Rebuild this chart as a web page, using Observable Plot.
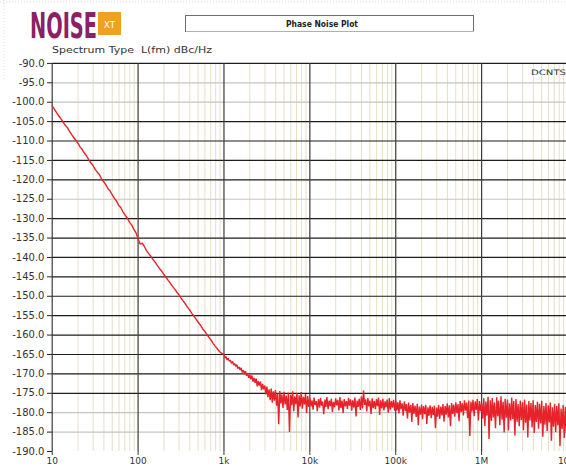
<!DOCTYPE html>
<html>
<head>
<meta charset="utf-8">
<script src="https://cdn.jsdelivr.net/npm/d3@7"></script>
<script src="https://cdn.jsdelivr.net/npm/@observablehq/plot@0.6"></script>
<style>
  html, body { margin: 0; padding: 0; background: #fff; }
  #wrap { position: relative; width: 566px; height: 469px; overflow: hidden; background: #fff; }
  #wrap svg.plot { position: absolute; left: 0; top: 0; }
  #hdr { position: absolute; left: 0; top: 0; }
</style>
</head>
<body>
<div id="wrap">
  <svg id="hdr" width="566" height="80" xmlns="http://www.w3.org/2000/svg">
    <line x1="0" y1="2" x2="566" y2="2" stroke="#d8d8d8" stroke-dasharray="1,2"/>
    <line x1="4" y1="0" x2="4" y2="469" stroke="#dcdcdc" stroke-dasharray="1,2"/>
    <text x="30" y="38" font-family="DejaVu Sans Condensed, DejaVu Sans" font-weight="bold" font-size="36" fill="#8c2067" textLength="67" lengthAdjust="spacingAndGlyphs">NOISE</text>
    <rect x="98" y="12" width="23" height="23" fill="#eea21e"/>
    <text x="109.5" y="27.5" text-anchor="middle" font-family="DejaVu Sans" font-size="9" fill="#fff">XT</text>
    <rect x="185.5" y="15.5" width="288" height="16" fill="#fff" stroke="#6e6e6e" stroke-width="1"/>
    <line x1="186" y1="31.5" x2="474" y2="31.5" stroke="#b0b0b0"/>
    <text x="286" y="27" font-family="DejaVu Sans" font-weight="bold" font-size="9" fill="#222" textLength="72" lengthAdjust="spacingAndGlyphs">Phase Noise Plot</text>
    <text x="52" y="53" font-family="DejaVu Sans" font-size="9" fill="#333" textLength="160" lengthAdjust="spacingAndGlyphs">Spectrum Type&#160;&#160;L(fm) dBc/Hz</text>
    <text x="531" y="75" font-family="DejaVu Sans" font-size="7.5" fill="#333" textLength="35" lengthAdjust="spacingAndGlyphs">DCNTS</text>
  </svg>
</div>
<script>
// ---- Data ----
// Frequency mantissas within each decade (40 steps per decade) and half-step mantissas
const mantissas = [1.00,1.06,1.12,1.19,1.26,1.33,1.41,1.50,1.58,1.68,1.78,1.88,2.00,2.11,2.24,2.37,2.51,2.66,2.82,2.99,
                   3.16,3.35,3.55,3.76,3.98,4.22,4.47,4.73,5.01,5.31,5.62,5.96,6.31,6.68,7.08,7.50,7.94,8.41,8.91,9.44];
const midMantissas = [1.03,1.09,1.15,1.22,1.30,1.37,1.45,1.54,1.63,1.73,1.83,1.94,2.05,2.18,2.30,2.44,2.59,2.74,2.90,3.07,
                      3.25,3.45,3.65,3.87,4.10,4.34,4.60,4.87,5.16,5.46,5.79,6.13,6.49,6.88,7.29,7.72,8.18,8.66,9.17,9.72];
const decadeStarts = [10, 100, 1000, 10000, 100000, 1000000];

// L(fm) in dBc/Hz, main steps, one array per decade
const pn10 = [-101.0,-101.8,-102.6,-103.5,-104.2,-105.0,-105.9,-106.5,-107.4,-108.3,-109.1,-109.8,-110.6,-111.5,-112.2,-113.1,-113.8,-114.8,-115.6,-116.3,
              -117.3,-118.0,-118.7,-119.8,-120.5,-121.3,-122.3,-122.9,-123.9,-124.8,-125.5,-126.6,-127.2,-128.3,-129.1,-129.9,-130.9,-131.6,-132.7,-133.6];
const pn100 = [-135.2,-136.6,-136.3,-137.3,-138.3,-139.0,-139.7,-140.6,-141.2,-142.1,-142.9,-143.5,-144.4,-145.1,-145.9,-146.6,-147.4,-148.1,-148.9,-149.6,
               -150.5,-151.2,-152.0,-152.8,-153.5,-154.4,-155.1,-155.9,-156.7,-157.4,-158.3,-159.0,-159.8,-160.6,-161.3,-162.2,-162.9,-163.6,-164.3,-164.7];
// from 1 kHz the trace is noisy: main steps carry the upper edge, half steps the lower edge
const pn1k = [-165.0,-165.6,-166.0,-166.5,-166.8,-167.3,-167.6,-168.2,-168.4,-169.0,-169.3,-169.8,-170.2,-170.4,-171.0,-171.2,-171.9,-172.0,-172.6,-173.0,
              -173.3,-174.0,-173.8,-174.5,-174.2,-175.0,-174.4,-175.3,-174.6,-175.6,-174.8,-175.4,-174.5,-175.8,-175.0,-175.5,-174.7,-175.9,-175.2,-175.7];
const pn10k = [-176.3,-176.8,-176.1,-177.0,-176.5,-176.2,-177.1,-176.6,-176.0,-176.9,-176.4,-177.2,-176.3,-176.7,-176.0,-176.9,-176.5,-177.0,-176.2,-176.6,
               -176.8,-176.1,-176.9,-176.4,-175.8,-174.3,-176.6,-176.2,-176.9,-176.3,-177.0,-176.5,-176.1,-176.8,-176.4,-177.1,-176.6,-176.2,-177.0,-176.7];
const pn100k = [-176.9,-177.3,-176.8,-177.6,-177.1,-177.8,-177.4,-178.0,-177.5,-178.2,-177.7,-178.4,-177.9,-178.3,-178.0,-178.6,-178.1,-178.5,-178.2,-178.7,
                -178.0,-178.4,-177.8,-178.3,-177.6,-178.1,-177.5,-177.9,-177.3,-177.8,-177.0,-177.6,-176.8,-177.4,-176.9,-177.2,-176.7,-177.1,-176.5,-177.0];
const pn1M = [-177.5,-176.3,-177.1,-175.9,-176.8,-176.2,-177.4,-176.0,-176.9,-175.8,-177.2,-176.4,-176.6,-177.6,-176.1,-177.0,-176.5,-177.8,-176.9,-177.3,
              -176.6,-177.9,-177.0,-177.5,-176.8,-178.0,-177.2,-177.7,-176.9,-178.3,-177.5,-178.1,-177.4,-178.6,-177.8,-178.2,-177.6,-178.9,-178.0,-178.5];

// L(fm) in dBc/Hz at the half steps (noisy decades only, from 1 kHz)
const pn1kMid = [-165.9,-166.4,-166.7,-167.3,-167.7,-168.1,-168.6,-169.0,-169.6,-170.0,-170.5,-171.0,-171.4,-172.0,-172.3,-173.2,-173.0,-174.2,-174.0,-175.3,
                 -176.0,-176.8,-177.4,-176.9,-178.2,-183.0,-177.6,-178.8,-177.9,-179.3,-185.0,-178.1,-179.6,-177.8,-181.2,-178.4,-179.0,-177.9,-180.1,-178.5];
const pn10kMid = [-178.4,-179.2,-178.0,-179.6,-178.7,-178.2,-180.4,-178.5,-179.1,-178.3,-179.8,-178.6,-178.1,-179.4,-178.8,-180.1,-178.4,-179.0,-178.2,-179.5,
                  -178.7,-181.0,-178.5,-179.3,-178.9,-178.0,-179.7,-178.4,-180.3,-178.8,-179.1,-178.3,-180.6,-178.9,-179.4,-178.6,-180.0,-179.2,-178.7,-179.5];
const pn100kMid = [-179.4,-180.2,-179.1,-180.8,-179.6,-181.5,-180.0,-182.4,-180.3,-181.1,-183.2,-180.5,-181.7,-180.4,-182.9,-180.8,-181.4,-180.6,-184.0,-181.0,
                   -181.6,-180.7,-182.3,-180.5,-181.2,-183.5,-180.3,-181.0,-180.1,-182.2,-179.8,-180.7,-179.5,-181.4,-186.0,-179.7,-180.9,-179.3,-182.0,-179.6];
const pn1MMid = [-181.5,-183.4,-180.8,-186.8,-182.1,-181.2,-184.0,-180.9,-183.2,-181.8,-185.1,-181.3,-184.6,-182.0,-181.6,-185.9,-182.3,-183.5,-181.9,-184.5,
                 -182.6,-186.4,-182.0,-183.8,-185.2,-182.4,-184.1,-182.8,-186.2,-183.1,-184.7,-182.5,-187.2,-183.6,-185.0,-183.3,-188.6,-184.2,-186.5,-185.4];
const lastPoint = [10000000, -181.0];

// Axes / grid
const yTicks = [-90,-95,-100,-105,-110,-115,-120,-125,-130,-135,-140,-145,-150,-155,-160,-165,-170,-175,-180,-185,-190];
const darkRows = [-90,-105,-110,-115,-120,-130,-135,-140,-145,-150,-155,-160,-165,-170,-175];
const lightRows = [-95,-100,-125,-180,-185];
const decades = [10, 100, 1000, 10000, 100000, 1000000, 10000000];
const decadeLabels = ["10", "100", "1k", "10k", "100k", "1M", "10M"];
const minorMultipliers = [2,3,4,5,6,7,8,9];

// ---- Build table ----
const data = [];
[pn10, pn100, pn1k, pn10k, pn100k, pn1M].forEach((vals, i) => {
  vals.forEach((v, j) => data.push({f: mantissas[j] * decadeStarts[i], v}));
});
[[pn1kMid, 1000], [pn10kMid, 10000], [pn100kMid, 100000], [pn1MMid, 1000000]].forEach(([vals, d]) => {
  vals.forEach((v, j) => data.push({f: midMantissas[j] * d, v}));
});
data.push({f: lastPoint[0], v: lastPoint[1]});
data.sort((a, b) => a.f - b.f);

const minor = [];
decadeStarts.forEach(d => minorMultipliers.forEach(m => minor.push(m * d)));

const labelOf = new Map(decades.map((d, i) => [d, decadeLabels[i]]));

const chart = Plot.plot({
  width: 566,
  height: 469,
  marginLeft: 52,
  marginTop: 63,
  marginBottom: 18,
  marginRight: 0,
  x: {type: "log", domain: [10, 1e7], range: [51.7, 567]},
  y: {domain: [-190, -90], range: [451, 62.9]},
  style: {background: "transparent", fontFamily: "DejaVu Sans", color: "#333"},
  marks: [
    Plot.ruleX(minor, {stroke: "#e6e0c6", strokeWidth: 1}),
    Plot.ruleY(lightRows, {stroke: "#c4c4c4", strokeWidth: 1.2}),
    Plot.ruleY(darkRows, {stroke: "#1c1c1c", strokeWidth: 1.2}),
    Plot.ruleX(decades, {stroke: "#3a3a3a", strokeWidth: 1.2}),
    Plot.line(data, {x: "f", y: "v", stroke: "#e6232a", strokeWidth: 1.4, strokeLinejoin: "miter"}),
    Plot.axisY(yTicks, {anchor: "left", tickFormat: d => d.toFixed(1), tickSize: 5, tickPadding: 3, fontSize: 10, stroke: "#222", label: null}),
    Plot.axisX(decades, {anchor: "bottom", tickFormat: d => labelOf.get(d), tickSize: 4, tickPadding: 2, fontSize: 9, stroke: "#333", label: null})
  ]
});
chart.setAttribute("class", (chart.getAttribute("class") || "") + " plot");
const wrap = document.getElementById("wrap");
wrap.insertBefore(chart, document.getElementById("hdr"));
</script>
</body>
</html>
